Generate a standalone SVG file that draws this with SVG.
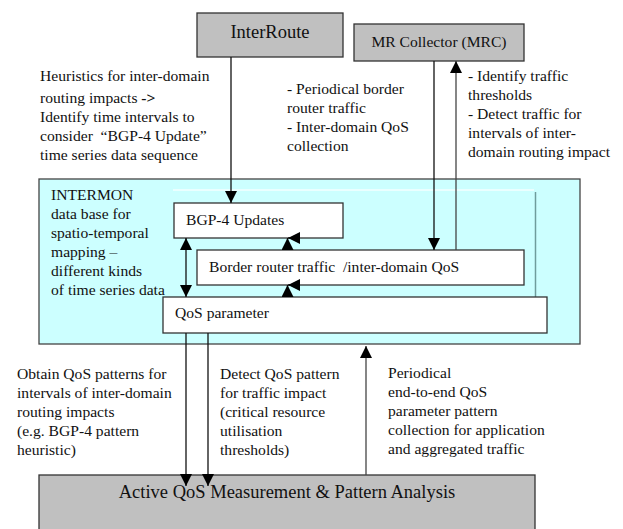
<svg xmlns="http://www.w3.org/2000/svg" width="623" height="529" viewBox="0 0 623 529">
<style>
text{font-family:"Liberation Serif","Times New Roman",serif;fill:#111}
.t{font-size:15.6px}
.box{stroke:#333;stroke-width:1.3}
.gray{fill:#c0c0c0}
.white{fill:#fff}
.c{stroke:#111;stroke-width:1.3;fill:none}
.cg{stroke:#444;stroke-width:1.3;fill:none}
</style>
<defs>
<marker id="ah" viewBox="0 0 12 12" refX="12" refY="6" markerWidth="12" markerHeight="12" orient="auto" markerUnits="userSpaceOnUse">
<path d="M0,0 L12,6 L0,12 z" fill="#000"/>
</marker>
<marker id="as" viewBox="0 0 12 12" refX="0" refY="6" markerWidth="12" markerHeight="12" orient="auto" markerUnits="userSpaceOnUse">
<path d="M12,0 L0,6 L12,12 z" fill="#000"/>
</marker>
</defs>

<g id="intermon">
<rect x="39" y="179" width="541" height="165" fill="#ccffff" stroke="#444" stroke-width="1.3"/>
<line x1="173" y1="190" x2="534" y2="190" stroke="#eaffff" stroke-width="2"/>
<line x1="535.5" y1="192" x2="535.5" y2="297" stroke="#6f9c9c" stroke-width="1.5"/>
<text class="t" x="51" y="200">INTERMON</text>
<text class="t" x="51" y="219">data base for</text>
<text class="t" x="51" y="238">spatio-temporal</text>
<text class="t" x="51" y="257">mapping –</text>
<text class="t" x="51" y="276">different kinds</text>
<text class="t" x="51" y="295">of time series data</text>
</g>

<g id="interroute">
<rect class="box gray" x="197" y="13" width="146" height="44"/>
<text x="270" y="38" font-size="18.5" text-anchor="middle">InterRoute</text>
</g>

<g id="mrc">
<rect class="box gray" x="354" y="24" width="170" height="37"/>
<text x="439" y="47" font-size="15.6" text-anchor="middle">MR Collector (MRC)</text>
</g>

<g id="bgp">
<rect class="box white" x="174" y="203" width="169" height="35"/>
<text class="t" x="186" y="225">BGP-4 Updates</text>
</g>

<g id="border">
<rect class="box white" x="197" y="250" width="327" height="35"/>
<text class="t" x="209" y="272">Border router traffic &#160;/inter-domain QoS</text>
</g>

<g id="qos">
<rect class="box white" x="163" y="297" width="384" height="36"/>
<text class="t" x="175" y="318">QoS parameter</text>
</g>

<g id="active">
<rect class="box gray" x="39" y="475" width="496" height="70"/>
<text x="287" y="498" font-size="18.5" text-anchor="middle">Active QoS Measurement &amp; Pattern Analysis</text>
</g>

<g id="labels">
<text class="t" x="40" y="81">Heuristics for inter-domain</text>
<text class="t" x="40" y="103">routing impacts <tspan font-weight="bold">-&gt;</tspan></text>
<text class="t" x="40" y="122">Identify time intervals to</text>
<text class="t" x="40" y="141">consider &#160;“BGP-4 Update”</text>
<text class="t" x="40" y="160">time series data sequence</text>

<text class="t" x="287" y="94">- Periodical border</text>
<text class="t" x="287" y="113">router traffic</text>
<text class="t" x="287" y="132">- Inter-domain QoS</text>
<text class="t" x="287" y="151">collection</text>

<text class="t" x="468" y="81">- Identify traffic</text>
<text class="t" x="468" y="100">thresholds</text>
<text class="t" x="468" y="119">- Detect traffic for</text>
<text class="t" x="468" y="138">intervals of inter-</text>
<text class="t" x="468" y="157">domain routing impact</text>

<text class="t" x="17" y="379">Obtain QoS patterns for</text>
<text class="t" x="17" y="398">intervals of inter-domain</text>
<text class="t" x="17" y="417">routing impacts</text>
<text class="t" x="17" y="436">(e.g. BGP-4 pattern</text>
<text class="t" x="17" y="455">heuristic)</text>

<text class="t" x="220" y="379">Detect QoS pattern</text>
<text class="t" x="220" y="398">for traffic impact</text>
<text class="t" x="220" y="417">(critical resource</text>
<text class="t" x="220" y="436">utilisation</text>
<text class="t" x="220" y="455">thresholds)</text>

<text class="t" x="388" y="378">Periodical</text>
<text class="t" x="388" y="397">end-to-end QoS</text>
<text class="t" x="388" y="416">parameter pattern</text>
<text class="t" x="388" y="435">collection for application</text>
<text class="t" x="388" y="454">and aggregated traffic</text>
</g>

<g id="connectors">
<line class="c" x1="231" y1="57" x2="231" y2="203" marker-end="url(#ah)"/>
<line class="c" x1="434" y1="61" x2="434" y2="250" marker-end="url(#ah)"/>
<line class="cg" x1="456" y1="250" x2="456" y2="61" marker-end="url(#ah)"/>
<line class="c" x1="186" y1="238" x2="186" y2="297" marker-start="url(#as)" marker-end="url(#ah)"/>
<line class="c" x1="287.5" y1="250" x2="287.5" y2="238" marker-end="url(#ah)"/>
<line class="c" x1="300" y1="238" x2="288" y2="238" marker-end="url(#ah)"/>
<line class="c" x1="287.5" y1="297" x2="287.5" y2="285" marker-end="url(#ah)"/>
<line class="c" x1="300" y1="285" x2="288" y2="285" marker-end="url(#ah)"/>
<line class="c" x1="186" y1="333" x2="186" y2="486" marker-end="url(#ah)"/>
<line class="c" x1="208" y1="333" x2="208" y2="486" marker-end="url(#ah)"/>
<line class="cg" x1="366" y1="475" x2="366" y2="346" marker-end="url(#ah)"/>
</g>
</svg>
